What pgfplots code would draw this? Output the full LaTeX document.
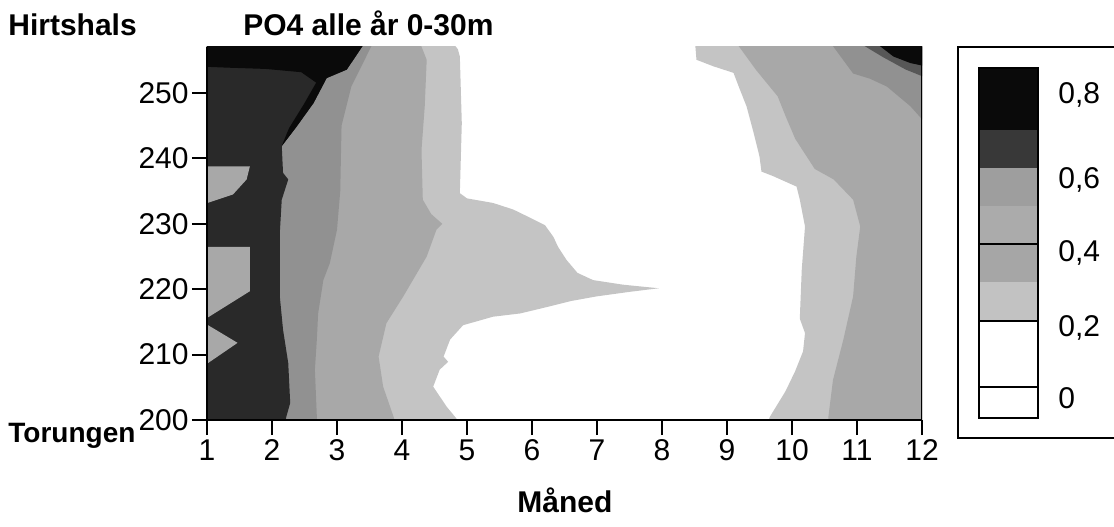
\documentclass[border=0pt]{standalone}
\usepackage{fontspec}
\setmainfont{Liberation Sans}
\usepackage{pgfplots}
\pgfplotsset{compat=1.18}

% contour band shades, lightest to darkest
\definecolor{bandA}{gray}{0.77}
\definecolor{bandB}{gray}{0.66}
\definecolor{bandC}{gray}{0.57}
\definecolor{bandRim}{gray}{0.34}
\definecolor{bandD}{gray}{0.16}
\definecolor{bandE}{gray}{0.04}

\newcommand\lab{\fontsize{15}{18}\selectfont}
\newcommand\hd{\fontsize{15}{18}\selectfont\bfseries}

\begin{document}
\begin{tikzpicture}
\path[use as bounding box] (-103.5pt,-53pt) rectangle (453.5pt,210pt);

\begin{axis}[
  at={(0pt,0pt)}, anchor=south west,
  scale only axis, width=357.5pt, height=186.65pt,
  xmin=1, xmax=12, ymin=200, ymax=257.1,
  axis x line*=bottom, axis y line*=left,
  axis on top,
  xtick={1,2,...,12}, ytick={200,210,...,250},
  tick align=outside, major tick length=7.5pt,
  every tick/.style={black, line width=1pt},
  axis line style={line width=1.2pt},
  tick label style={font=\lab},
  yticklabel style={inner sep=1.5pt},
  xticklabel style={inner sep=2pt},
  /pgf/number format/assume math mode=true,
]
% ---- west side (Jan--May) ----
\addplot[fill=bandA, draw=none] coordinates {
 (0.8,199.4) (4.87,199.4) (4.84,200.2) (4.69,202.0) (4.48,205.1) (4.58,207.7)
 (4.71,208.9) (4.64,209.7) (4.74,212.3) (4.94,214.5) (5.40,215.8) (5.82,216.3)
 (6.28,217.4) (6.6,218.2) (6.99,218.9) (7.5,219.6) (7.95,220.15) (7.4,220.7)
 (6.94,221.4) (6.7,222.5) (6.53,224.5) (6.4,226.5) (6.33,228.0) (6.2,229.8)
 (6.0,230.8) (5.71,232.2) (5.40,233.2) (5.0,233.9) (4.89,234.7) (4.92,245.4)
 (4.89,255.6) (4.86,256.7) (4.79,257.6) (0.8,257.6)} -- cycle;
\addplot[fill=bandB, draw=none] coordinates {
 (0.8,199.4) (3.90,199.4) (3.87,200.5) (3.71,205.1) (3.64,209.7) (3.76,214.8)
 (4.02,218.9) (4.38,225.0) (4.53,229.1) (4.62,230.0) (4.45,231.5) (4.32,233.7)
 (4.30,241.3) (4.35,248.0) (4.38,255.1) (4.28,257.6) (0.8,257.6)} -- cycle;
\addplot[fill=bandC, draw=none] coordinates {
 (0.8,199.4) (2.69,199.4) (2.69,200.5) (2.66,207.7) (2.69,212.3) (2.71,216.3)
 (2.79,221.4) (2.89,224.0) (3.0,229.1) (3.05,235.0) (3.07,245.0) (3.22,251.0)
 (3.55,257.6) (0.8,257.6)} -- cycle;
\addplot[fill=bandD, draw=none] coordinates {
 (0.8,199.4) (2.2,199.4) (2.22,200.5) (2.28,202.6) (2.25,208.7) (2.17,213.8)
 (2.12,218.9) (2.12,228.6) (2.15,233.7) (2.25,236.8) (2.17,237.8) (2.15,241.9)
 (2.38,244.9) (2.64,248.5) (2.84,252.3) (3.15,253.6) (3.42,257.6) (0.8,257.6)} -- cycle;
\addplot[fill=bandE, draw=none] coordinates {
 (0.8,257.6) (3.42,257.6) (3.15,253.6) (2.84,252.3) (2.64,248.5) (2.38,244.9)
 (2.15,241.9) (2.26,244.6) (2.49,248.3) (2.68,251.6) (2.45,253.2) (1.9,253.7)
 (1.3,253.9) (0.8,254.1)} -- cycle;
% lighter tongues along the January edge
\addplot[fill=bandB, draw=none] coordinates {
 (0.8,238.8) (1.66,238.8) (1.61,236.8) (1.40,234.5) (0.8,232.5)} -- cycle;
\addplot[fill=bandB, draw=none] coordinates {
 (0.8,226.5) (1.66,226.5) (1.66,219.7) (1.0,215.6) (0.8,215.5)} -- cycle;
\addplot[fill=bandB, draw=none] coordinates {
 (0.8,214.6) (1.0,214.6) (1.47,211.8) (1.0,208.6) (0.8,208.6)} -- cycle;
% ---- east side (Sep--Dec) ----
\addplot[fill=bandA, draw=none] coordinates {
 (12.2,199.4) (9.62,199.4) (9.66,200.5) (9.9,204.4) (10.05,207.5) (10.17,210.5)
 (10.2,213.3) (10.12,215.5) (10.15,223.0) (10.2,229.6) (10.12,233.7) (10.07,235.7)
 (9.71,237.3) (9.53,238.0) (9.50,240.3) (9.41,243.9) (9.30,248.0) (9.2,250.5)
 (9.10,253.1) (8.79,254.1) (8.53,255.1) (8.51,257.6) (12.2,257.6)} -- cycle;
\addplot[fill=bandB, draw=none] coordinates {
 (12.2,199.4) (10.56,199.4) (10.56,200.5) (10.63,206.1) (10.79,212.3) (10.94,218.9)
 (10.99,225.0) (11.05,229.6) (10.94,233.7) (10.64,236.8) (10.35,238.4) (10.05,243.0)
 (9.9,246.5) (9.78,249.5) (9.45,253.5) (9.15,257.6) (12.2,257.6)} -- cycle;
\addplot[fill=bandC, draw=none] coordinates {
 (10.6,257.6) (10.94,253.0) (11.2,252.2) (11.46,251.0) (11.82,248.0) (12.2,243.8)
 (12.2,257.6)} -- cycle;
\addplot[fill=bandRim, draw=none] coordinates {
 (11.05,257.6) (11.4,255.5) (11.75,253.6) (12.2,251.8) (12.2,257.6)} -- cycle;
\addplot[fill=bandE, draw=none] coordinates {
 (11.30,257.6) (11.56,255.6) (11.82,254.6) (12.2,253.8) (12.2,257.6)} -- cycle;
\draw[line width=1pt] (axis cs:12,200) -- (axis cs:12,257.1);
\end{axis}

\begin{scope}[x=0.5pt, y=0.5pt]
% titles and side labels
\node[anchor=base west, inner sep=0, font=\hd] at (-199,385) {Hirtshals};
\node[anchor=base west, inner sep=0, font=\hd] at (36,385) {PO4 alle år 0-30m};
\node[anchor=base west, inner sep=0, font=\fontsize{14}{17}\selectfont\bfseries] at (-199,-22) {Torungen};
\node[anchor=base, inner sep=0, font=\hd] at (358,-92) {Måned};

% key
\draw[line width=1pt] (751,-18) rectangle (1000,373);
\fill[bandE] (772,290) rectangle (831,352);
\fill[black!78] (772,252) rectangle (831,290);
\fill[black!38] (772,214) rectangle (831,252);
\fill[black!33] (772,176) rectangle (831,214);
\fill[black!35] (772,138) rectangle (831,176);
\fill[black!24] (772,99) rectangle (831,138);
\draw[line width=1pt] (772,2) rectangle (831,352);
\draw[line width=1pt] (772,176) -- (831,176);
\draw[line width=1pt] (772,99) -- (831,99);
\draw[line width=1pt] (772,33) -- (831,33);
\node[anchor=west, inner sep=0, font=\lab] at (851,325) {0,8};
\node[anchor=west, inner sep=0, font=\lab] at (851,240) {0,6};
\node[anchor=west, inner sep=0, font=\lab] at (851,167) {0,4};
\node[anchor=west, inner sep=0, font=\lab] at (851,92) {0,2};
\node[anchor=west, inner sep=0, font=\lab] at (851,22) {0};
\end{scope}
\end{tikzpicture}
\end{document}
